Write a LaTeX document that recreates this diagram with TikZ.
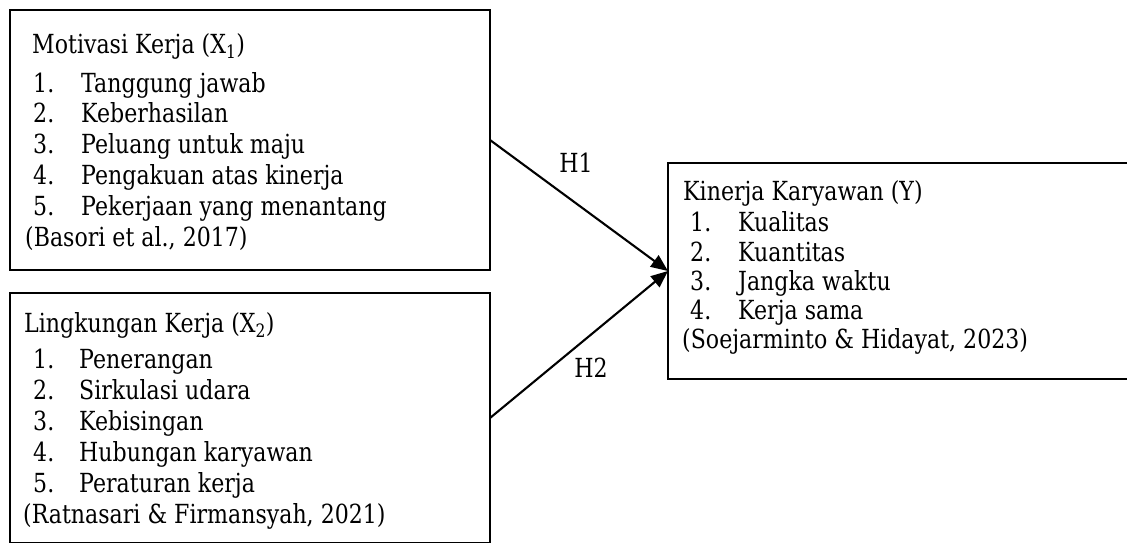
\documentclass[tikz,border=0pt]{standalone}
\usepackage{fontspec}
\setmainfont{DejaVu Serif}[FakeStretch=0.84]
\usetikzlibrary{arrows.meta}
\begin{document}
\begin{tikzpicture}[x=1pt,y=-1pt,
  box/.style={draw,line width=2.6pt,inner sep=0pt,outer sep=0pt,minimum width=480pt},
  txt/.style={anchor=base west,inner sep=0pt,font=\fontsize{26.3}{30}\selectfont},
  lbl/.style={inner sep=0pt,font=\fontsize{26.3}{30}\selectfont},
  conn/.style={line width=2.1pt,-{Triangle[length=17pt,width=14pt]}}]
\useasboundingbox (0,0) rectangle (1127,542);
\clip (0,0) rectangle (1127,542);
% boxes
\node[box,minimum height=260pt] (b1) at (250,140) {};
\node[box,minimum height=250pt] (b2) at (250,418) {};
\node[box,minimum height=216pt] (b3) at (908,271) {};
% box 1
\node[txt] (a0) at (32,53) {Motivasi Kerja (X\textsubscript{1})};
\foreach \i/\y/\s in {1/92/Tanggung jawab,2/122/Keberhasilan,3/153/Peluang untuk maju,4/184/Pengakuan atas kinerja,5/215/Pekerjaan yang menantang}{
  \node[txt] (an\i) at (33,\y) {\i.};
  \node[txt] (at\i) at (81,\y) {\s};
}
\node[txt] (ac) at (25,246) {(Basori et al., 2017)};
% box 2
\node[txt] (c0) at (24,332) {Lingkungan Kerja (X\textsubscript{2})};
\foreach \i/\y/\s in {1/368/Penerangan,2/399/Sirkulasi udara,3/430/Kebisingan,4/461/Hubungan karyawan,5/492/Peraturan kerja}{
  \node[txt] (cn\i) at (33,\y) {\i.};
  \node[txt] (ct\i) at (79,\y) {\s};
}
\node[txt] (cc) at (23,523) {(Ratnasari \& Firmansyah, 2021)};
% box 3
\node[txt] (y0) at (683,200) {Kinerja Karyawan (Y)};
\foreach \i/\y/\s in {1/231/Kualitas,2/261/Kuantitas,3/290/Jangka waktu,4/319/Kerja sama}{
  \node[txt] (yn\i) at (690,\y) {\i.};
  \node[txt] (yt\i) at (738,\y) {\s};
}
\node[txt] (yc) at (682,348) {(Soejarminto \& Hidayat, 2023)};
% connectors
\draw[conn] (b1.east) -- (b3.west);
\draw[conn] (b2.east) -- (b3.west);
\node[lbl] (h1) at (576,163) {H1};
\node[lbl] (h2) at (591,368) {H2};
\end{tikzpicture}
\end{document}
